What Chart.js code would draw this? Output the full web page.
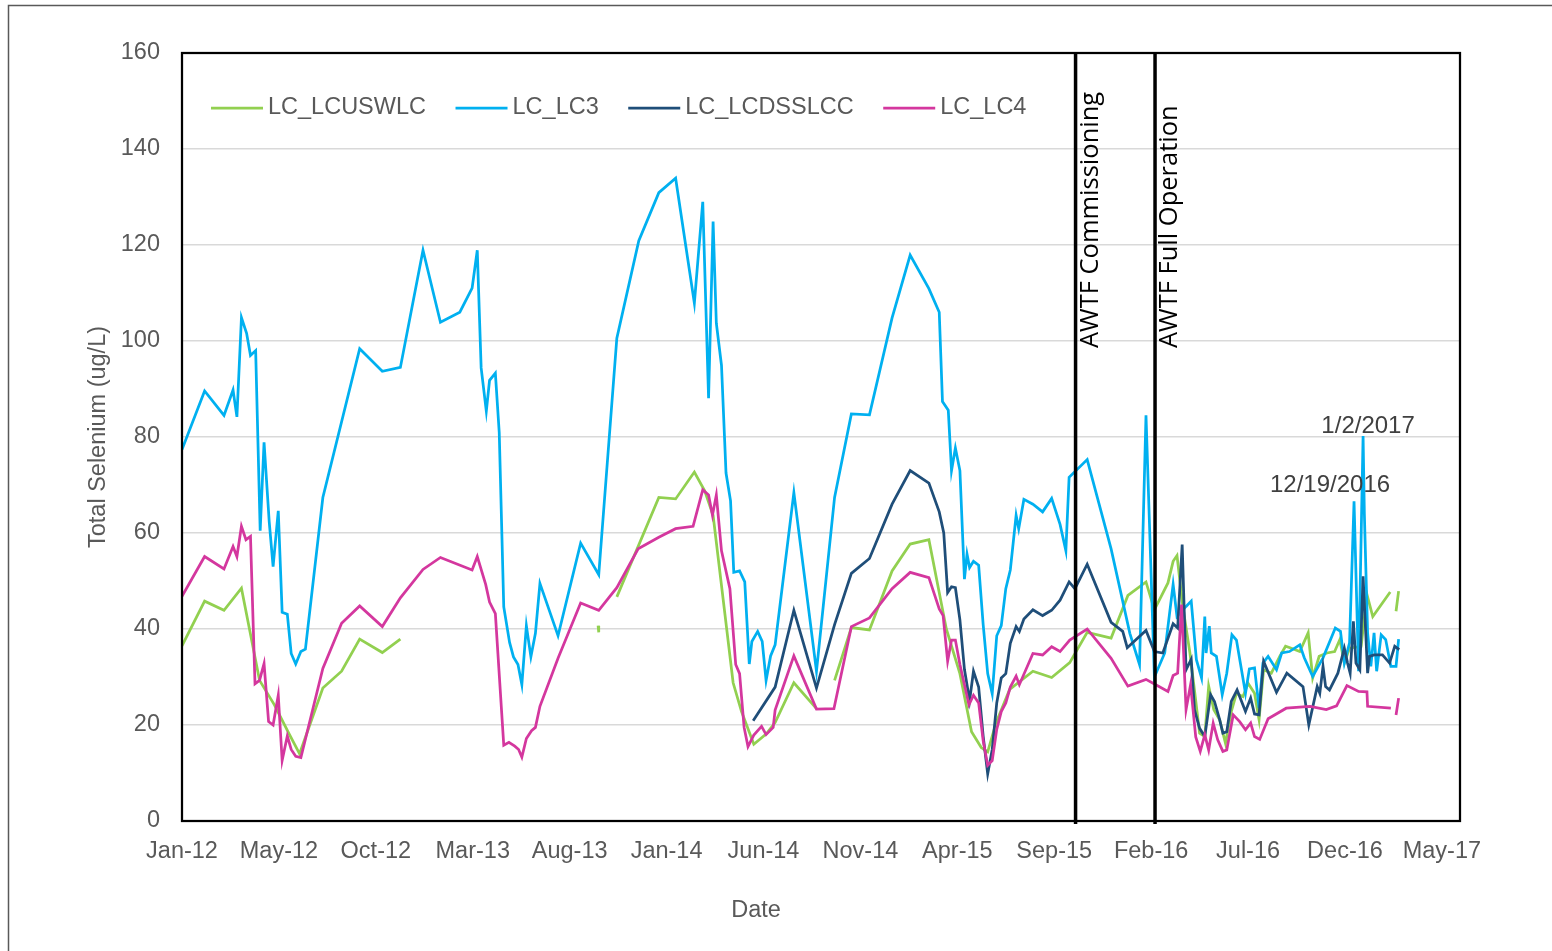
<!DOCTYPE html>
<html>
<head>
<meta charset="utf-8">
<title>Total Selenium</title>
<script src="https://cdn.jsdelivr.net/npm/chart.js@4.4.1/dist/chart.umd.min.js"></script>
<style>
    html, body { margin: 0; padding: 0; background: #fff; }
    #wrap { width: 1552px; height: 951px; position: relative; }
</style>
</head>
<body>
<div id="wrap"><canvas id="seleniumChart"></canvas></div>
<script>
// tick labels on the date axis, one every 150 days from 1 Jan 2012
const tickLabels = ["Jan-12", "May-12", "Oct-12", "Mar-13", "Aug-13", "Jan-14", "Jun-14",
    "Nov-14", "Apr-15", "Sep-15", "Feb-16", "Jul-16", "Dec-16", "May-17"];
const tickStep = 150;
const axisEndDate = "2017-06-01";

const seriesNames = ["LC_LCUSWLC", "LC_LC3", "LC_LCDSSLCC", "LC_LC4"];
const seriesColors = ["#92D050", "#00B0F0", "#1F4E79", "#D4379E"];

// LC_LCUSWLC
const uswlcDates = ["2012-01-01","2012-02-05","2012-03-06","2012-04-02","2012-04-30","2012-05-23","2012-06-13",
    "2012-07-01","2012-08-06","2012-09-04","2012-10-02","2012-11-06","2012-12-04","2013-06-01","2013-10-06",
    "2013-10-07","2013-10-20","2013-11-04","2014-01-08","2014-02-03","2014-03-04","2014-03-20","2014-04-02",
    "2014-05-03","2014-05-16","2014-06-04","2014-06-23","2014-07-07","2014-08-05","2014-09-09","2014-09-20",
    "2014-10-07","2014-11-02","2014-11-30","2015-01-04","2015-02-01","2015-03-02","2015-03-29","2015-04-19",
    "2015-05-07","2015-05-22","2015-06-01","2015-06-14","2015-07-05","2015-08-10","2015-09-08","2015-10-06",
    "2015-11-02","2015-12-09","2016-01-04","2016-02-01","2016-02-14","2016-03-06","2016-03-14","2016-03-20",
    "2016-03-29","2016-04-09","2016-04-16","2016-04-24","2016-05-02","2016-05-08","2016-05-16","2016-05-25",
    "2016-06-03","2016-06-12","2016-06-20","2016-06-30","2016-07-08","2016-07-18","2016-07-25","2016-08-01",
    "2016-08-13","2016-08-26","2016-09-04","2016-09-13","2016-09-26","2016-10-09","2016-10-16","2016-10-26",
    "2016-11-07","2016-11-19","2016-11-27","2016-12-04","2016-12-12","2016-12-30","2017-01-08","2017-01-17",
    "2017-02-13","2017-02-18","2017-02-22","2017-02-26"];
const uswlcValues = [36.5,45.8,43.9,48.5,29.3,24.2,18.6,14,27.7,31.2,37.9,35.1,37.9,null,40.7,
    39.3,null,46.7,67.4,67.1,72.7,68.8,63.7,28.8,22.8,16,18.1,20.5,28.8,23.4,null,
    29.3,40.3,39.8,52.1,57.7,58.6,40,30.7,18.6,15.3,14.4,20.5,27.4,31.2,29.9,33,
    39.3,38.1,47,49.8,44,49.6,54.1,55.3,44.7,35,27.3,18.3,17.6,28.1,23.2,21.1,
    16.2,22.8,26.6,25.9,28.7,26.6,21.1,31.5,30.8,34.3,36.4,36,35.3,39.2,29.8,34.3,
    35,35.3,37.8,32.9,36,36.4,47.2,42.6,47.7,null,43.7,47.9];

// LC_LC3
const lc3Dates = ["2012-01-01","2012-02-05","2012-03-06","2012-03-20","2012-03-26","2012-04-02","2012-04-10",
    "2012-04-16","2012-04-24","2012-05-01","2012-05-07","2012-05-15","2012-05-21","2012-05-29","2012-06-04",
    "2012-06-12","2012-06-18","2012-06-25","2012-07-03","2012-07-10","2012-08-06","2012-10-02","2012-11-06",
    "2012-12-04","2013-01-08","2013-02-04","2013-03-06","2013-03-25","2013-04-02","2013-04-08","2013-04-16",
    "2013-04-21","2013-04-30","2013-05-06","2013-05-13","2013-05-22","2013-05-28","2013-06-04","2013-06-10",
    "2013-06-17","2013-06-24","2013-07-01","2013-07-08","2013-08-05","2013-09-09","2013-10-07","2013-11-04",
    "2013-12-08","2014-01-08","2014-02-03","2014-03-04","2014-03-17","2014-03-26","2014-04-02","2014-04-07",
    "2014-04-15","2014-04-22","2014-04-29","2014-05-04","2014-05-13","2014-05-21","2014-05-28","2014-06-01",
    "2014-06-10","2014-06-17","2014-06-23","2014-06-30","2014-07-07","2014-08-05","2014-09-09","2014-10-07",
    "2014-11-02","2014-11-30","2015-01-04","2015-02-01","2015-03-02","2015-03-18","2015-03-23","2015-04-01",
    "2015-04-06","2015-04-12","2015-04-19","2015-04-26","2015-04-30","2015-05-04","2015-05-10","2015-05-18",
    "2015-05-25","2015-06-01","2015-06-08","2015-06-15","2015-06-22","2015-06-29","2015-07-06","2015-07-15",
    "2015-07-19","2015-07-27","2015-08-10","2015-08-25","2015-09-08","2015-09-21","2015-09-30","2015-10-05",
    "2015-11-02","2015-12-09","2016-01-07","2016-01-22","2016-02-01","2016-02-14","2016-03-01","2016-03-14",
    "2016-03-20","2016-04-03","2016-04-11","2016-04-19","2016-04-27","2016-05-02","2016-05-04","2016-05-09",
    "2016-05-12","2016-05-20","2016-05-29","2016-06-05","2016-06-13","2016-06-20","2016-07-04","2016-07-10",
    "2016-07-18","2016-07-25","2016-07-31","2016-08-08","2016-08-21","2016-08-29","2016-09-10","2016-09-26",
    "2016-10-03","2016-10-16","2016-11-01","2016-11-20","2016-11-28","2016-12-04","2016-12-12","2016-12-19",
    "2016-12-26","2017-01-02","2017-01-04","2017-01-09","2017-01-14","2017-01-19","2017-01-23","2017-01-30",
    "2017-02-06","2017-02-14","2017-02-22","2017-02-26"];
const lc3Values = [77.4,89.6,84.5,89.8,84.2,104.9,101.6,
    97.0,98,60.5,78.9,62.3,53,64.6,43.5,
    43.1,34.9,32.7,35.3,35.8,67.4,98.4,93.7,
    94.5,118.9,103.9,106,111,118.9,94.4,85.4,
    91.8,93.3,80.9,44.6,37.2,34.2,32.6,28.4,
    40.7,34.2,39.1,49.5,38.6,57.9,51.3,100.6,
    120.9,130.9,133.9,107.9,129,88.1,124.9,103.7,
    94.9,72.5,66.7,51.8,52.1,49.8,32.7,37.4,
    39.5,37.4,29.3,34.4,36.7,68.4,31.2,67.4,
    84.8,84.6,104.8,117.9,110.9,106,87.4,85.6,
    73,77.7,73,50.4,55.6,52.8,54.1,53.3,
    40.9,30.7,26.5,38.6,40.7,48.4,52.3,63.7,
    60.9,67,66,64.4,67.2,61.8,56.3,71.6,
    75.3,56.7,39.1,32.6,84.5,30,35,49.3,
    42.6,44.7,45.8,33.6,29.8,42.6,35,40.6,
    35,34.3,26.3,30.8,38.8,37.7,26.6,31.7,
    31.9,23.5,32.9,34.3,31.5,35,35.3,36.7,
    34,30.1,34,40.2,39.5,32.9,37.1,66.6,
    31.2,80.2,63.9,39.2,32.2,39.2,31.2,38.8,
    37.8,32.2,32.2,37.9];

// LC_LCDSSLCC
const dssDates = ["2014-06-03","2014-07-07","2014-08-05","2014-09-09","2014-10-07","2014-11-02","2014-11-30",
    "2015-01-04","2015-02-01","2015-03-02","2015-03-18","2015-03-25","2015-03-31","2015-04-06","2015-04-12",
    "2015-04-19","2015-04-26","2015-05-04","2015-05-10","2015-05-18","2015-05-25","2015-06-01","2015-06-08",
    "2015-06-15","2015-06-22","2015-06-29","2015-07-06","2015-07-15","2015-07-20","2015-07-27","2015-08-10",
    "2015-08-25","2015-09-08","2015-09-21","2015-10-05","2015-10-14","2015-11-02","2015-12-09","2015-12-27",
    "2016-01-03","2016-02-01","2016-02-14","2016-02-27","2016-03-14","2016-03-21","2016-03-28","2016-04-03",
    "2016-04-11","2016-04-16","2016-04-24","2016-05-02","2016-05-11","2016-05-17","2016-05-25","2016-05-30",
    "2016-06-05","2016-06-12","2016-06-21","2016-07-04","2016-07-12","2016-07-18","2016-07-25","2016-08-01",
    "2016-08-21","2016-09-06","2016-10-01","2016-10-10","2016-10-23","2016-10-27","2016-11-01","2016-11-05",
    "2016-11-11","2016-11-24","2016-12-04","2016-12-09","2016-12-13","2016-12-18","2016-12-22","2016-12-28",
    "2017-01-02","2017-01-09","2017-01-12","2017-01-19","2017-02-01","2017-02-12","2017-02-20","2017-02-27"];
const dssValues = [20.9,27.9,43.9,27.7,40.9,51.6,54.7,
    66,73,70.4,64.4,60,47.6,48.8,48.6,
    41.9,31.6,25.1,31.2,27.9,17.7,9.8,14.9,
    24.6,29.8,30.7,37,40.5,39.5,42.1,44,
    42.8,43.9,46,49.8,48.4,53.5,41.4,39.5,
    36.1,39.7,35.3,35,41.1,40.2,57.6,31.5,
    33.7,23.2,19.3,17.6,26.3,24.9,21.1,18.3,
    18.6,24.9,27.3,22.8,25.6,22.3,22.1,33.3,
    26.8,30.8,28,20,28,26.6,32.2,28,
    27.3,30.8,36,32.9,30.8,41.6,32.9,31.5,
    51,30.8,34.3,34.6,34.6,32.9,36.4,35.7];

// LC_LC4
const lc4Dates = ["2012-01-01","2012-02-05","2012-03-06","2012-03-20","2012-03-26","2012-04-02","2012-04-09",
    "2012-04-16","2012-04-23","2012-04-30","2012-05-07","2012-05-14","2012-05-21","2012-05-29","2012-06-04",
    "2012-06-12","2012-06-18","2012-06-25","2012-07-03","2012-08-06","2012-09-04","2012-10-02","2012-11-06",
    "2012-12-04","2013-01-08","2013-02-04","2013-03-25","2013-04-02","2013-04-15","2013-04-21","2013-04-30",
    "2013-05-13","2013-05-21","2013-05-30","2013-06-05","2013-06-10","2013-06-17","2013-06-25","2013-07-01",
    "2013-07-08","2013-08-05","2013-09-09","2013-10-07","2013-11-04","2013-12-07","2014-01-08","2014-02-03",
    "2014-03-02","2014-03-17","2014-03-26","2014-04-01","2014-04-07","2014-04-15","2014-04-28","2014-05-07",
    "2014-05-13","2014-05-20","2014-05-26","2014-06-04","2014-06-16","2014-06-23","2014-07-04","2014-07-07",
    "2014-08-05","2014-09-09","2014-10-06","2014-11-02","2014-11-30","2015-01-04","2015-02-01","2015-03-02",
    "2015-03-18","2015-03-24","2015-03-31","2015-04-06","2015-04-12","2015-04-19","2015-05-03","2015-05-10",
    "2015-05-18","2015-05-25","2015-06-01","2015-06-08","2015-06-15","2015-06-22","2015-06-29","2015-07-06",
    "2015-07-15","2015-07-20","2015-08-10","2015-08-25","2015-09-08","2015-09-21","2015-10-06","2015-11-02",
    "2015-12-09","2016-01-04","2016-02-01","2016-02-12","2016-03-06","2016-03-14","2016-03-21","2016-03-27",
    "2016-04-03","2016-04-10","2016-04-18","2016-04-25","2016-05-02","2016-05-08","2016-05-15","2016-05-22",
    "2016-05-30","2016-06-05","2016-06-15","2016-06-25","2016-07-04","2016-07-12","2016-07-18","2016-07-26",
    "2016-08-08","2016-09-05","2016-09-26","2016-10-12","2016-11-06","2016-11-22","2016-12-08","2016-12-26",
    "2017-01-08","2017-01-09","2017-02-14","2017-02-18","2017-02-22","2017-02-26"];
const lc4Values = [46.8,55.1,52.5,57.2,55.1,61.4,58.6,
    59.3,28.6,29.3,32.8,20.7,20,26.2,12.6,
    17.7,14.9,13.5,13.2,31.8,41.2,44.8,40.5,
    46.5,52.4,54.9,52.3,55.1,49.3,45.6,43.2,
    15.8,16.4,15.6,14.9,13.3,17.2,18.8,19.5,
    23.9,33.9,45.4,43.9,48.6,56.7,59.1,60.9,
    61.4,69,67.9,63.7,67.9,56.3,48.4,32.6,
    30.7,19.5,15.5,17.9,19.7,18,19.5,23.1,
    34.4,23.3,23.4,40.5,42.3,48.4,51.8,50.7,
    44.2,42.8,33.3,37.7,37.7,32.6,24.2,26.2,
    24.6,16.7,11.6,12.6,19.1,22.8,24.6,27.9,
    30.2,28.4,34.9,34.6,36.3,35.3,37.7,40,
    33.9,28.1,29.5,28.7,27,30.3,30.8,45.1,
    23.2,28.4,17.5,14.5,18,14.8,20.4,16.9,
    14.5,14.8,22.1,20.7,19,20.4,17.6,17,
    21.3,23.5,23.7,23.9,23.2,24,28.2,27,
    26.9,23.9,23.5,null,22.1,25.6];

// AWTF milestones and the two labelled LC3 samples
const awtfDates = ["2015-10-15", "2016-02-15"];
const awtfLabels = ["AWTF Commissioning", "AWTF Full Operation"];
const labelledDates = ["2016-12-19", "2017-01-02"];

const DAY0 = Date.UTC(2012, 0, 1);

function toDay(s) {
    const [y, m, d] = s.split("-").map(Number);
    return (Date.UTC(y, m - 1, d) - DAY0) / 864e5;
}

function usDate(s) {
    const [y, m, d] = s.split("-").map(Number);
    return m + "/" + d + "/" + y;
}

function points(dates, values) {
    return dates.map((d, i) => ({ x: toDay(d), y: values[i] }));
}

const seriesData = [
    points(uswlcDates, uswlcValues),
    points(lc3Dates, lc3Values),
    points(dssDates, dssValues),
    points(lc4Dates, lc4Values)
];

const datasets = seriesNames.map((name, i) => ({
    label: name,
    data: seriesData[i],
    borderColor: seriesColors[i],
    backgroundColor: seriesColors[i],
    borderWidth: 2.75,
    pointRadius: 0,
    tension: 0,
    spanGaps: false,
    order: seriesNames.length - i   // later series sit on top, like the source chart
}));

const TXT = "#595959";
const FONT = "'Liberation Sans', Arial, sans-serif";
const FONT_SIZE = 23.5;

const extrasPlugin = {
    id: "extras",
    beforeDraw(chart) {
        const ctx = chart.ctx;
        ctx.save();
        ctx.strokeStyle = "#595959";
        ctx.lineWidth = 1.5;
        ctx.strokeRect(8.5, 5.5, chart.width + 20, chart.height + 20);
        ctx.restore();
    },
    afterDraw(chart) {
        const ctx = chart.ctx;
        const a = chart.chartArea;
        const x = chart.scales.x;
        ctx.save();

        // milestone lines
        ctx.strokeStyle = "#000";
        ctx.lineWidth = 3.5;
        awtfDates.forEach((d, i) => {
            const px = x.getPixelForValue(toDay(d));
            ctx.beginPath();
            ctx.moveTo(px, a.top);
            ctx.lineTo(px, a.bottom + 3);
            ctx.stroke();

            ctx.save();
            ctx.translate(px + 22, a.top + 295);
            ctx.rotate(-Math.PI / 2);
            ctx.fillStyle = "#000";
            ctx.font = "25.5px 'Open Sans'";
            ctx.textAlign = "left";
            ctx.textBaseline = "alphabetic";
            ctx.fillText(awtfLabels[i], 0, 0);
            ctx.restore();
        });

        // plot frame
        ctx.lineWidth = 2.25;
        ctx.strokeRect(a.left, a.top, a.right - a.left, a.bottom - a.top);

        // legend across the top of the plot
        ctx.font = FONT_SIZE + "px " + FONT;
        ctx.textAlign = "left";
        ctx.textBaseline = "middle";
        let lx = a.left + 29;
        const ly = a.top + 55;
        chart.data.datasets.forEach((ds) => {
            ctx.strokeStyle = ds.borderColor;
            ctx.lineWidth = 2.75;
            ctx.beginPath();
            ctx.moveTo(lx, ly);
            ctx.lineTo(lx + 52, ly);
            ctx.stroke();
            ctx.fillStyle = TXT;
            ctx.fillText(ds.label, lx + 57, ly);
            lx += 57 + ctx.measureText(ds.label).width + 29.5;
        });

        // axis title for the dates
        ctx.textAlign = "center";
        ctx.fillText("Date", 756, 911);

        // date labels on the two LC3 spikes
        const meta = chart.getDatasetMeta(1);
        const offsets = [[-24, -9], [5, -3]];
        ctx.fillStyle = "#404040";
        ctx.font = "24px " + FONT;
        ctx.textBaseline = "alphabetic";
        labelledDates.forEach((d, i) => {
            const pt = meta.data[lc3Dates.indexOf(d)];
            if (!pt) return;
            ctx.fillText(usDate(d), pt.x + offsets[i][0], pt.y + offsets[i][1]);
        });

        ctx.restore();
    }
};

const config = {
    type: "line",
    data: { datasets },
    options: {
        responsive: true,
        maintainAspectRatio: false,
        animation: false,
        layout: { padding: { top: 53, right: 92, left: 0, bottom: 0 } },
        scales: {
            x: {
                type: "linear",
                min: 0,
                max: toDay(axisEndDate),
                grid: { display: false, drawTicks: false },
                border: { display: false },
                afterBuildTicks: (scale) => {
                    scale.ticks = tickLabels.map((_, i) => ({ value: i * tickStep }));
                },
                afterFit: (scale) => { scale.height = 130; },
                ticks: {
                    autoSkip: false,
                    maxRotation: 0,
                    padding: 16,
                    color: TXT,
                    font: { family: FONT, size: FONT_SIZE },
                    callback: (value, index) => tickLabels[index]
                }
            },
            y: {
                min: 0,
                max: 160,
                grid: { color: "#d9d9d9", lineWidth: 1.5, drawTicks: false },
                border: { display: false },
                afterFit: (scale) => { scale.width = 182; },
                ticks: {
                    stepSize: 20,
                    padding: 22,
                    color: TXT,
                    font: { family: FONT, size: FONT_SIZE }
                },
                title: {
                    display: true,
                    text: "Total Selenium (ug/L)",
                    color: TXT,
                    font: { family: FONT, size: FONT_SIZE },
                    padding: { top: 84, bottom: 0 }
                }
            }
        },
        plugins: {
            legend: { display: false },
            tooltip: { enabled: false }
        }
    },
    plugins: [extrasPlugin]
};

const ctx = document.getElementById("seleniumChart").getContext("2d");
new Chart(ctx, config);
</script>
</body>
</html>
